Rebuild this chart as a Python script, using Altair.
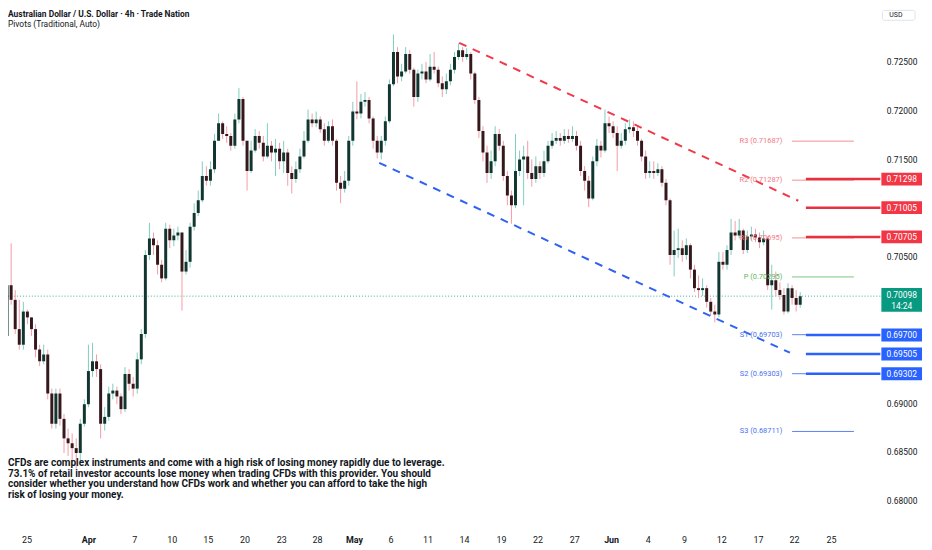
import json
import altair as alt
import pandas as pd

# ---------------- data (prices in pips: 7021 -> 0.7021) ----------------
FIRST_OPEN = 6969
CLOSES = [
    7021, 7006, 6976, 6960, 6994, 6988, 6976, 6955, 6943, 6950,
    6910, 6879, 6910, 6884, 6864, 6859, 6854, 6849, 6879, 6899,
    6933, 6943, 6935, 6879, 6886, 6910, 6913, 6907, 6894, 6930,
    6920, 6915, 6945, 6971, 7052, 7069, 7062, 7042, 7028, 7079,
    7067, 7072, 7075, 7035, 7045, 7081, 7095, 7108, 7133, 7128,
    7140, 7169, 7187, 7176, 7174, 7164, 7191, 7212, 7169, 7138,
    7159, 7174, 7167, 7153, 7164, 7157, 7161, 7148, 7157, 7136,
    7130, 7140, 7153, 7169, 7191, 7187, 7191, 7181, 7169, 7184,
    7169, 7126, 7120, 7128, 7169, 7199, 7197, 7209, 7211, 7192,
    7169, 7157, 7169, 7189, 7227, 7260, 7235, 7240, 7258, 7242,
    7214, 7238, 7240, 7232, 7245, 7242, 7228, 7222, 7230, 7242,
    7255, 7262, 7255, 7258, 7238, 7211, 7179, 7157, 7136, 7148,
    7176, 7164, 7133, 7113, 7103, 7138, 7150, 7153, 7136, 7130,
    7143, 7136, 7148, 7164, 7169, 7172, 7169, 7174, 7171, 7174,
    7164, 7138, 7128, 7110, 7148, 7164, 7159, 7187, 7184, 7177,
    7164, 7169, 7181, 7183, 7179, 7169, 7153, 7136, 7138, 7136,
    7140, 7126, 7108, 7052, 7057, 7059, 7052, 7062, 7037, 7018,
    7016, 7018, 7004, 6994, 6991, 7045, 7042, 7057, 7075, 7072,
    7077, 7057, 7071, 7073, 7070, 7065, 7069, 7021, 7026, 7016,
    7011, 6994, 7018, 7008, 7001, 7009.8,
]
HIGHS = [
    7037, 7064, 7016, 7006, 7004, 6996, 6988, 6981, 6960, 6960,
    6955, 6915, 6915, 6915, 6889, 6874, 6869, 6864, 6884, 6904,
    6960, 6962, 6950, 6940, 6896, 6917, 6920, 6917, 6910, 6937,
    6935, 6927, 6952, 6976, 7057, 7085, 7075, 7067, 7047, 7085,
    7083, 7079, 7081, 7067, 7057, 7085, 7105, 7118, 7148, 7143,
    7148, 7176, 7197, 7189, 7184, 7177, 7197, 7223, 7214, 7164,
    7169, 7181, 7179, 7174, 7187, 7169, 7171, 7167, 7169, 7161,
    7143, 7148, 7161, 7179, 7201, 7197, 7199, 7194, 7187, 7189,
    7191, 7171, 7133, 7138, 7174, 7209, 7230, 7217, 7219, 7214,
    7194, 7174, 7174, 7194, 7232, 7278, 7265, 7248, 7265, 7262,
    7244, 7242, 7248, 7250, 7258, 7260, 7245, 7235, 7238, 7248,
    7260, 7269, 7265, 7264, 7260, 7240, 7214, 7184, 7164, 7159,
    7184, 7181, 7169, 7138, 7118, 7176, 7159, 7164, 7169, 7150,
    7153, 7148, 7159, 7169, 7177, 7179, 7177, 7181, 7181, 7184,
    7179, 7169, 7143, 7133, 7153, 7171, 7169, 7201, 7194, 7189,
    7184, 7177, 7187, 7191, 7189, 7184, 7171, 7159, 7148, 7148,
    7146, 7143, 7130, 7110, 7077, 7079, 7067, 7069, 7064, 7042,
    7031, 7028, 7021, 7008, 7001, 7055, 7055, 7062, 7089, 7087,
    7089, 7079, 7077, 7081, 7079, 7075, 7077, 7071, 7042, 7035,
    7024, 7018, 7023, 7021, 7016, 7014,
]
LOWS = [
    6912, 7001, 6971, 6955, 6955, 6981, 6969, 6947, 6938, 6940,
    6904, 6874, 6874, 6877, 6849, 6846, 6838, 6833, 6841, 6876,
    6896, 6927, 6927, 6864, 6872, 6882, 6904, 6899, 6889, 6891,
    6913, 6907, 6910, 6940, 6967, 7047, 7052, 7032, 7024, 7026,
    7059, 7061, 7067, 6995, 7032, 7039, 7077, 7092, 7106, 7123,
    7123, 7136, 7169, 7171, 7167, 7159, 7161, 7187, 7164, 7118,
    7136, 7157, 7161, 7148, 7151, 7148, 7133, 7140, 7136, 7123,
    7115, 7126, 7136, 7151, 7167, 7183, 7183, 7177, 7164, 7167,
    7164, 7118, 7105, 7116, 7123, 7164, 7191, 7192, 7204, 7187,
    7161, 7151, 7150, 7164, 7187, 7225, 7228, 7230, 7238, 7238,
    7204, 7209, 7232, 7228, 7230, 7238, 7224, 7214, 7217, 7226,
    7238, 7252, 7250, 7252, 7232, 7207, 7172, 7148, 7126, 7130,
    7143, 7159, 7128, 7103, 7084, 7100, 7133, 7103, 7130, 7122,
    7126, 7130, 7132, 7146, 7161, 7166, 7164, 7166, 7167, 7168,
    7159, 7133, 7118, 7101, 7108, 7143, 7152, 7157, 7177, 7172,
    7138, 7161, 7165, 7177, 7173, 7164, 7148, 7130, 7131, 7130,
    7133, 7122, 7103, 7042, 7030, 7049, 7045, 7047, 7028, 7014,
    7008, 7010, 6998, 6990, 6983, 6988, 7037, 7037, 7052, 7067,
    7069, 7053, 7054, 7067, 7065, 7059, 7062, 7016, 6996, 7010,
    7006, 6991, 6992, 7001, 6994, 6998,
]
CURRENT_PRICE = 0.70098
CANDLE_TIMER = "14:24"

X_LABELS = ["25", "Apr", "7", "10", "15", "20", "23", "28", "May", "6", "11",
            "14", "19", "22", "27", "Jun", "4", "9", "12", "17", "22", "25"]
X_LABEL_POS = [4.75, 20.0, 31.25, 40.48, 49.33, 58.39, 67.4, 76.22, 85.3, 94.29, 103.37,
               112.36, 121.45, 130.43, 139.45, 148.51, 157.52, 166.43, 175.59, 184.65, 193.49, 202.58]
MONTHS = ["Apr", "May", "Jun"]
Y_TICKS = [0.680, 0.685, 0.690, 0.705, 0.715, 0.720, 0.725]

PIVOT_NAMES = ["R3", "R2", "R1", "P", "S1", "S2", "S3"]
PIVOT_VALUES = [0.71687, 0.71287, 0.70695, 0.70295, 0.69703, 0.69303, 0.68711]
LEVELS = [0.71298, 0.71005, 0.70705, 0.69700, 0.69505, 0.69302]

RED_TREND_I = [111.16, 194.53]
RED_TREND_P = [0.72695, 0.71076]
BLUE_TREND_I = [91.49, 192.46]
BLUE_TREND_P = [0.71465, 0.69518]

TITLE = "Australian Dollar / U.S. Dollar · 4h · Trade Nation"
SUBTITLE = "Pivots (Traditional, Auto)"
DISCLAIMER = [
    "CFDs are complex instruments and come with a high risk of losing money rapidly due to leverage.",
    "73.1% of retail investor accounts lose money when trading CFDs with this provider. You should",
    "consider whether you understand how CFDs work and whether you can afford to take the high",
    "risk of losing your money.",
]

# ---------------- styling ----------------
W, H = 880, 517
X_DOMAIN = [1.446, 213.49]
Y_DOMAIN = [0.677734, 0.730274]
FONT = "Roboto"
INK = "#131722"
WICK_UP, WICK_DN = "#7fcdbf", "#f49ba6"
BODY_UP, BODY_DN = "#11362f", "#35181c"
RED, BLUE, TEAL = "#f23645", "#2962ff", "#089981"

opens = [FIRST_OPEN] + CLOSES[:-1]
candles = pd.DataFrame({
    "i": list(range(len(CLOSES))),
    "open": [o / 1e4 for o in opens],
    "close": [c / 1e4 for c in CLOSES],
    "high": [max(h, o, c) / 1e4 for h, o, c in zip(HIGHS, opens, CLOSES)],
    "low": [min(l, o, c) / 1e4 for l, o, c in zip(LOWS, opens, CLOSES)],
})

xs = alt.Scale(domain=X_DOMAIN, nice=False, zero=False)
ys = alt.Scale(domain=Y_DOMAIN, nice=False, zero=False)

label_expr = f"{json.dumps(X_LABELS)}[indexof({json.dumps(X_LABEL_POS)}, datum.value)]"
month_pos = [p for p, t in zip(X_LABEL_POS, X_LABELS) if t in MONTHS]
x_axis = alt.Axis(
    values=X_LABEL_POS, labelExpr=label_expr, grid=False, domain=False, ticks=False,
    labelPadding=13, labelFontSize=9, labelFont=FONT, labelColor=INK, title=None,
    labelOverlap=False, labelFlush=False,
    labelFontWeight={"condition": {"test": f"indexof({json.dumps(month_pos)}, datum.value) >= 0",
                                   "value": "bold"}, "value": "normal"},
)
y_axis = alt.Axis(
    orient="right", values=Y_TICKS, format=".5f", grid=False, domain=False, ticks=False,
    labelPadding=6, labelFontSize=8.5, labelFont=FONT, labelColor=INK, title=None,
    labelFlush=False, labelOverlap=False,
)


def X(field):
    return alt.X(field, type="quantitative", scale=xs, axis=x_axis)


def Y(field):
    return alt.Y(field, type="quantitative", scale=ys, axis=y_axis)


up = "datum.close >= datum.open"

wicks = alt.Chart(candles).mark_rule(strokeWidth=1, clip=True).encode(
    x=X("i"), y=Y("low"), y2="high:Q",
    color=alt.condition(up, alt.value(WICK_UP), alt.value(WICK_DN)),
)
bodies = alt.Chart(candles).mark_bar(size=3, clip=True, orient="vertical").encode(
    x=X("i"), y=Y("open"), y2="close:Q",
    color=alt.condition(up, alt.value(BODY_UP), alt.value(BODY_DN)),
)

# current price line
cur = pd.DataFrame({"value": [CURRENT_PRICE], "label": [f"{CURRENT_PRICE:.5f}"], "timer": [CANDLE_TIMER]})
cur_line = alt.Chart(cur).mark_rule(strokeDash=[1, 2], color=TEAL, strokeWidth=1, opacity=0.8).encode(
    y=Y("value"), x=alt.value(0), x2=alt.value(W))

# pivots
piv = pd.DataFrame({"name": PIVOT_NAMES, "value": PIVOT_VALUES})
piv["label"] = [f"{n} ({v:.5f})" for n, v in zip(PIVOT_NAMES, PIVOT_VALUES)]
piv["kind"] = [n[0] for n in PIVOT_NAMES]
pivot_lines = alt.Chart(piv).transform_calculate(x0="193.0", x1="208.2").mark_rule(strokeWidth=1).encode(
    x=X("x0"), x2="x1:Q", y=Y("value"),
    color=alt.Color("kind:N", scale=alt.Scale(domain=["R", "P", "S"], range=["#f58d97", "#7cc47f", "#5b82f5"]), legend=None),
)
pivot_labels = alt.Chart(piv).transform_calculate(x0="190.6").mark_text(
    align="right", baseline="middle", fontSize=7.5, font=FONT).encode(
    x=X("x0"), y=Y("value"), text="label:N",
    color=alt.Color("kind:N", scale=alt.Scale(domain=["R", "P", "S"], range=["#f37a86", "#5cb860", "#4a73f0"]), legend=None),
)

# drawn horizontal levels + price-scale boxes
lev = pd.DataFrame({"value": LEVELS})
lev["kind"] = ["R" if v > CURRENT_PRICE else "S" for v in LEVELS]
lev["label"] = [f"{v:.5f}" for v in LEVELS]
level_lines = alt.Chart(lev).transform_calculate(x0="196.4").mark_rule(strokeWidth=2.5).encode(
    x=X("x0"), x2=alt.value(W), y=Y("value"),
    color=alt.Color("kind:N", scale=alt.Scale(domain=["R", "S"], range=["#e8313f", "#2962ff"]), legend=None),
)
level_boxes = alt.Chart(lev).transform_calculate(
    lo="datum.value - 0.00066", hi="datum.value + 0.00066"
).mark_rect().encode(
    x=alt.value(W + 1), x2=alt.value(W + 42), y=Y("hi"), y2="lo:Q",
    color=alt.Color("kind:N", scale=alt.Scale(domain=["R", "S"], range=[RED, BLUE]), legend=None),
)
level_text = alt.Chart(lev).mark_text(color="white", fontSize=8.5, font=FONT, baseline="middle").encode(
    x=alt.value(W + 21.5), y=Y("value"), text="label:N")

cur_box = alt.Chart(cur).transform_calculate(
    lo="datum.value - 0.0016", hi="datum.value + 0.00084"
).mark_rect(color=TEAL).encode(x=alt.value(W + 1), x2=alt.value(W + 42), y=Y("hi"), y2="lo:Q")
cur_text = alt.Chart(cur).mark_text(color="white", fontSize=8.5, font=FONT, baseline="middle", dy=-1).encode(
    x=alt.value(W + 21.5), y=Y("value"), text="label:N")
cur_timer = alt.Chart(cur).mark_text(color="white", fontSize=8.5, font=FONT, baseline="middle", dy=10).encode(
    x=alt.value(W + 21.5), y=Y("value"), text="timer:N")

# trend lines
trend = pd.DataFrame({
    "i": RED_TREND_I + BLUE_TREND_I,
    "price": RED_TREND_P + BLUE_TREND_P,
    "line": ["red", "red", "blue", "blue"],
})
trend_lines = alt.Chart(trend).mark_line(strokeDash=[8, 7], strokeWidth=2).encode(
    x=X("i"), y=Y("price"), detail="line:N",
    color=alt.Color("line:N", scale=alt.Scale(domain=["red", "blue"], range=["#f0394a", "#2f62f0"]), legend=None),
)

one = alt.Data(values=[{"a": 0}])
title1 = alt.Chart(one).mark_text(text=TITLE, align="left", baseline="top", fontSize=8.5,
                                   fontWeight="bold", font=FONT, color=INK).encode(
    x=alt.value(0), y=alt.value(0))
title2 = alt.Chart(one).mark_text(text=SUBTITLE, align="left", baseline="top", fontSize=8.5,
                                   font=FONT, color=INK).encode(x=alt.value(0), y=alt.value(10))
usd_box = alt.Chart(one).mark_rect(fill="white", stroke="#e0e3eb", strokeWidth=1, cornerRadius=2).encode(
    x=alt.value(W + 2), x2=alt.value(W + 35), y=alt.value(0), y2=alt.value(10))
usd_text = alt.Chart(one).mark_text(text="USD", align="left", baseline="middle", fontSize=7,
                                    font=FONT, color=INK).encode(x=alt.value(W + 9), y=alt.value(5))
disclaimer = alt.Chart(one).mark_text(text=DISCLAIMER, align="left", baseline="top", fontSize=10.1,
                                      lineHeight=10.6, font=FONT, fontWeight="bold", color=INK).encode(
    x=alt.value(0), y=alt.value(452))

chart = alt.layer(
    cur_line, pivot_lines, level_lines, wicks, bodies, trend_lines, pivot_labels,
    level_boxes, level_text, cur_box, cur_text, cur_timer,
    title1, title2, usd_box, usd_text, disclaimer,
).resolve_scale(color="independent").properties(
    width=W, height=H,
    autosize=alt.AutoSizeParams(type="none"),
    padding={"left": 0, "top": 0, "right": 44, "bottom": 34},
    background="white",
).configure_view(stroke=None)

chart.save("out.html", embed_options={"renderer": "svg", "actions": False})
